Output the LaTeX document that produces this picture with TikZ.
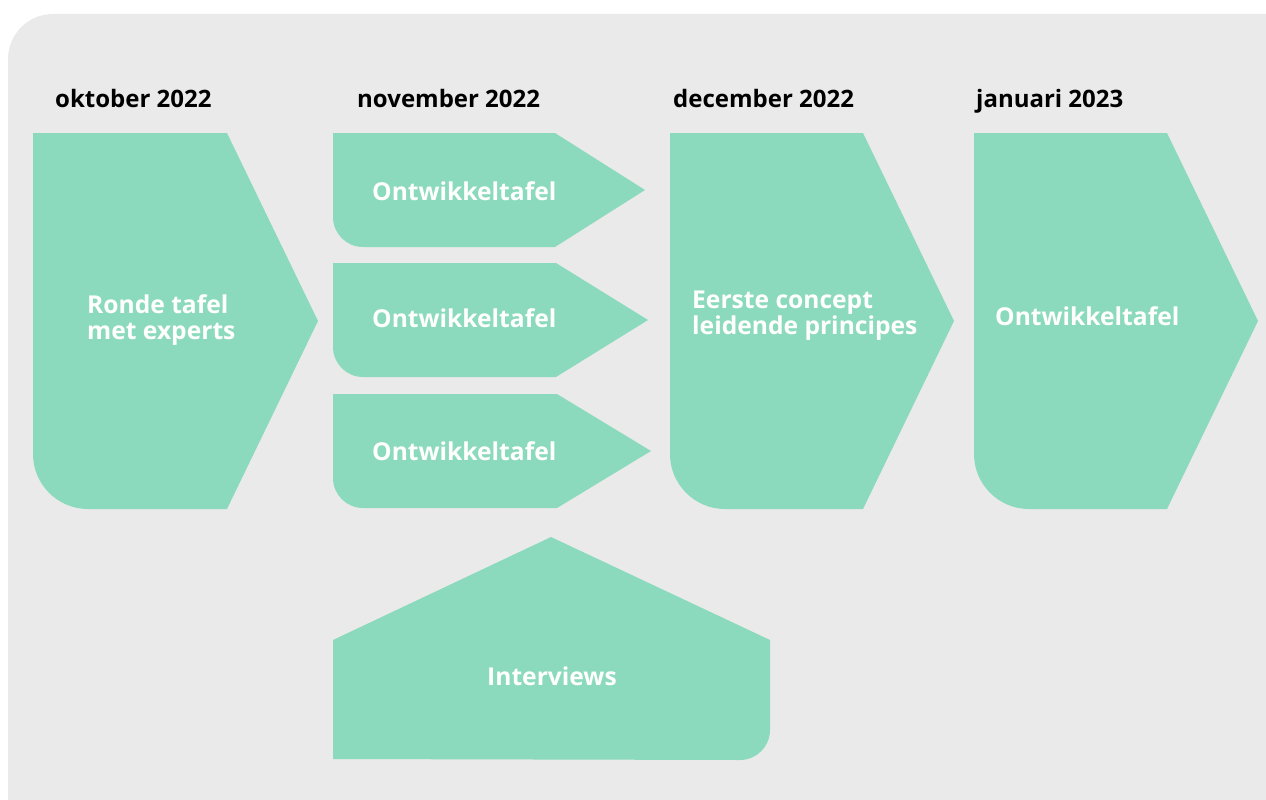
\documentclass[tikz,border=0pt]{standalone}
\usepackage{fontspec}
\setmainfont{Open Sans}
\usepackage{tikz}
\definecolor{bggrey}{RGB}{234,234,234}
\definecolor{mint}{RGB}{140,218,190}
\tikzset{
  month/.style={anchor=base west, inner sep=0pt, font=\bfseries\fontsize{24}{28}\selectfont, text=black},
  steptext/.style={anchor=base west, inner sep=0pt, align=left, font=\bfseries\fontsize{24.6}{25.5}\selectfont, text=white},
}

\begin{document}
\begin{tikzpicture}[x=1pt, y=-1pt]
    \useasboundingbox (0,0) rectangle (1266,800);
    \fill[bggrey] (8,800) -- (8,59) arc[start angle=180, end angle=270, radius=45] -- (1266,14) -- (1266,800) -- cycle;
    \fill[mint] (33,133) -- (227,133) -- (318,321) -- (227,509) -- (88,509) arc[start angle=90, end angle=180, radius=55] -- cycle;
    \fill[mint] (333,133) -- (555,133) -- (645,190) -- (555,247) -- (363,247) arc[start angle=90, end angle=180, radius=30] -- cycle;
    \fill[mint] (333,263) -- (556,263) -- (648,320) -- (556,377) -- (363,377) arc[start angle=90, end angle=180, radius=30] -- cycle;
    \fill[mint] (333,394) -- (557,394) -- (651,451) -- (557,508) -- (363,508) arc[start angle=90, end angle=180, radius=30] -- cycle;
    \fill[mint] (670,133) -- (863,133) -- (954,321) -- (863,509) -- (725,509) arc[start angle=90, end angle=180, radius=55] -- cycle;
    \fill[mint] (974,133) -- (1167,133) -- (1258,321) -- (1167,509) -- (1029,509) arc[start angle=90, end angle=180, radius=55] -- cycle;
    \fill[mint] (333,759) -- (333,640) -- (551,537) -- (770,640) -- (770,730) arc[start angle=0, end angle=90, radius=30] -- cycle;
    \node[month] (okt) at (55,107) {oktober 2022};
    \node[month] (nov) at (357,107) {november 2022};
    \node[month] (dec) at (673,107) {december 2022};
    \node[month] (jan) at (976,107) {januari 2023};
    \node[steptext] (ronde) at (87,339) {Ronde tafel\\met experts};
    \node[steptext] (tafela) at (372,200) {Ontwikkeltafel};
    \node[steptext] (tafelb) at (372,327) {Ontwikkeltafel};
    \node[steptext] (tafelc) at (372,460) {Ontwikkeltafel};
    \node[steptext] (concept) at (692,334) {Eerste concept\\leidende principes};
    \node[steptext] (tafeld) at (995,325) {Ontwikkeltafel};
    \node[steptext, anchor=base] (interv) at (552,685) {Interviews};
\end{tikzpicture}
\end{document}
